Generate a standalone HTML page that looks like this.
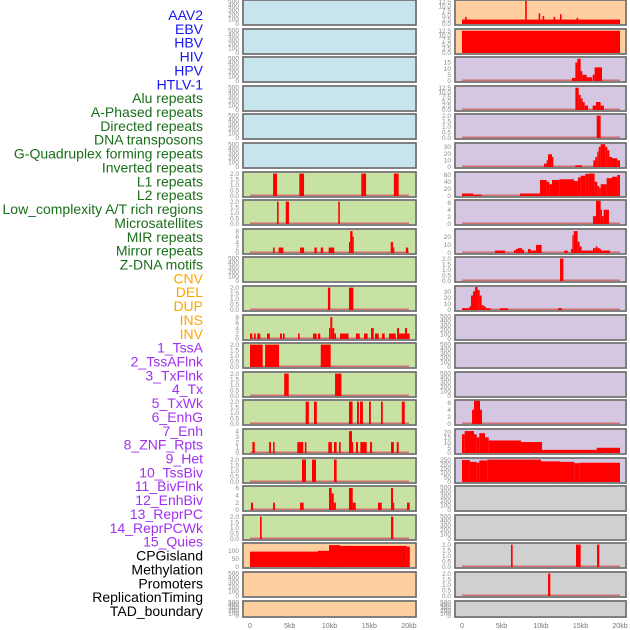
<!DOCTYPE html>
<html><head><meta charset="utf-8"><style>
html,body{margin:0;padding:0;background:#fff;}
svg{display:block;font-family:"Liberation Sans",sans-serif;}
</style></head><body>
<svg id="chart" width="630" height="630" viewBox="0 0 630 630" xmlns="http://www.w3.org/2000/svg"></svg>
<script>
// ---- data ----
const trackLabels = ["AAV2","EBV","HBV","HIV","HPV","HTLV-1","Alu repeats","A-Phased repeats","Directed repeats","DNA transposons","G-Quadruplex forming repeats","Inverted repeats","L1 repeats","L2 repeats","Low_complexity A/T rich regions","Microsatellites","MIR repeats","Mirror repeats","Z-DNA motifs","CNV","DEL","DUP","INS","INV","1_TssA","2_TssAFlnk","3_TxFlnk","4_Tx","5_TxWk","6_EnhG","7_Enh","8_ZNF_Rpts","9_Het","10_TssBiv","11_BivFlnk","12_EnhBiv","13_ReprPC","14_ReprPCWk","15_Quies","CPGisland","Methylation","Promoters","ReplicationTiming","TAD_boundary"];
const labelGroups = [0,0,0,0,0,0,1,1,1,1,1,1,1,1,1,1,1,1,1,2,2,2,2,2,3,3,3,3,3,3,3,3,3,3,3,3,3,3,3,4,4,4,4,4];
const xTickLabels = ["0","5kb","10kb","15kb","20kb"];
const xTickValues = [0,5,10,15,20];
const T500=[0,100,200,300,400,500], T2=[0,0.5,1,1.5,2], T8=[0,2,4,6,8], T6=[0,2,4,6], T125=[0,2.5,5,7.5,10,12.5];
const leftTicks = [T500,T500,T500,T500,T500,T500,T2,T2,T8,T500,T2,T8,T2,T2,T2,[0,1,2,3,4],T2,T6,T2,[0,50,100],T500,T500];
const leftYmax = [520,520,520,520,520,520,2.1,2.1,8.6,520,2.1,8.6,2.1,2.1,2.1,4.3,2.1,6.4,2.1,145,520,520];
const leftSegs = [[],[],[],[],[],[],
 [[2.9,3.4,2],[6.2,6.8,2],[14.0,14.6,2],[18.1,18.7,2]],
 [[3.4,3.6,2],[4.5,4.9,2],[11.1,11.3,2]],
 [[2.9,3.1,2],[3.6,4.2,2],[6.3,6.8,2],[8.1,8.4,2],[8.9,9.2,2],[9.9,10.6,2],[12.45,12.6,4],[12.6,12.9,8],[12.9,13.0,6],[17.7,18.0,4],[18.0,18.1,2],[19.6,19.9,2]],
 [],
 [[9.8,10.1,2],[12.45,13.0,2]],
 [[0,0.29,2],[0.5,0.72,2],[0.92,1.3,2],[2.14,2.5,2],[3.77,4.03,2],[4.15,4.36,2],[6.04,6.25,2],[7.92,8.39,2],[8.55,8.84,2],[9.94,10.1,4],[10.1,10.35,8],[10.35,10.6,4],[10.6,10.82,2],[11.32,12.4,2],[13.33,13.8,2],[14.34,14.8,2],[15.22,15.56,4],[15.72,16.19,2],[16.6,16.94,2],[17.48,18.33,2],[18.5,18.74,4],[18.74,19.5,2],[19.5,19.75,4],[19.75,20.09,2]],
 [[0,1.6,2],[1.9,3.65,2],[8.9,10.15,2]],
 [[4.3,4.87,2],[10.7,11.5,2]],
 [[7.0,7.4,2],[8.05,8.4,2],[12.45,12.9,2],[13.46,13.7,2],[13.84,14.2,2],[14.97,15.2,2],[16.48,16.7,2],[19.1,19.46,2]],
 [[0.3,0.6,2],[2.4,2.64,2],[2.9,3.1,2],[5.95,6.7,2],[6.9,7.1,2],[9.85,10.3,2],[10.57,10.9,2],[11.2,11.4,2],[12.45,12.83,4],[12.83,12.95,2],[13.33,13.58,2],[13.88,14.68,2],[15.1,15.35,2],[17.74,18.1,2],[18.45,18.7,2]],
 [[6.54,7.04,2],[7.8,8.3,2],[10.57,10.9,2]],
 [[0.13,0.38,2],[2.9,3.14,2],[6.3,6.75,2],[9.94,10.27,6],[10.27,10.53,4.5],[10.53,10.8,2],[12.45,12.92,6],[12.92,13.3,2],[16.1,16.57,2],[17.74,17.99,6],[17.99,18.1,2],[19.75,20.09,2]],
 [[1.26,1.47,2],[17.74,18.02,2]],
 [[0,8.55,95],[8.55,9.94,100],[9.94,11.32,135],[11.32,19.7,130],[19.7,20.1,125]],
 [],[]];
const rightTicks = [T125,T125,[0,5,10,15],T125,T2,[0,10,20,30],[0,20,40,60],T6,[0,10,20],T2,[0,10,20,30],T500,T500,T500,T6,[0,5,10,15,20],[0,50,100,150,200,250],T500,T500,T2,T2,T500];
const rightYmax = [13.2,13.2,19,13.2,2.1,35,66,6.6,29,2.1,39,520,520,520,6.6,22.5,262,520,520,2.1,2.1,520];
const rightSegs = [
 [[0,20,2.5],[0.4,0.6,4],[8.0,8.2,13],[9.7,9.9,6],[10.2,10.4,4.5],[11.6,11.8,4],[12.4,12.6,5.5],[14.5,14.7,3.5]],
 [[0,20,12.5]],
 [[13.92,14.35,2.5],[14.35,14.6,15],[14.6,15.02,18],[15.02,15.23,8],[15.23,15.78,5],[15.78,16.46,3],[16.54,16.79,5],[16.79,17.72,11]],
 [[14.35,14.77,12.5],[14.77,15.02,8.5],[15.02,15.27,6.5],[15.27,15.53,4.5],[15.53,15.95,2.5],[16.54,16.96,2.5],[16.96,17.55,4.5],[17.55,17.97,2.5]],
 [[17.05,17.55,2]],
 [[10.38,10.72,5],[10.72,10.89,10],[10.89,11.39,19],[11.39,11.56,15],[14.35,15.19,2.5],[16.62,16.88,10],[16.88,17.13,15],[17.13,17.3,23],[17.3,17.55,30],[17.55,18.14,34],[18.14,18.4,30],[18.4,18.65,25],[18.65,18.99,15],[18.99,19.66,13],[19.66,20,10]],
 [[0,1.43,7],[1.43,2.49,4],[7.34,9.87,7],[9.87,10.72,45],[10.72,11.05,40],[11.05,11.39,33],[11.39,12.32,45],[12.32,14.18,47],[14.18,14.68,42],[14.68,15.02,52],[15.02,15.61,57],[15.61,16.03,62],[16.03,16.79,63],[16.79,17.13,40],[17.13,17.38,28],[17.38,17.55,22],[17.55,18.31,33],[18.31,18.99,50],[18.99,19.66,54],[19.66,20,59]],
 [[16.58,16.96,2.2],[16.96,17.55,6.5],[17.55,17.72,4],[17.72,17.93,2.2],[17.93,18.6,4]],
 [[4.18,5.44,3],[6.58,6.84,3.5],[6.84,7.09,5],[7.09,7.59,6],[7.59,7.85,4],[8.35,8.69,5],[8.69,9.37,3],[9.37,10.08,10],[12.95,13.38,3],[13.8,13.97,5],[13.97,14.14,22],[14.14,14.64,27],[14.64,14.89,14],[14.89,15.15,8],[15.15,16.58,3],[16.58,16.92,6],[16.92,17.17,8],[17.17,17.43,6],[17.43,17.59,5],[17.59,18.73,3]],
 [[12.41,12.83,2]],
 [[0,0.93,3],[0.93,1.14,6],[1.14,1.39,24],[1.39,1.65,31],[1.65,1.98,38],[1.98,2.24,33],[2.24,2.49,24],[2.49,2.74,8],[2.74,3.0,6],[3.0,3.63,3],[4.81,5.82,3],[12.15,12.66,3]],
 [],[],[],
 [[1.27,1.52,4],[1.52,2.28,6.5],[2.28,2.53,4]],
 [[0,0.34,18],[0.34,1.52,21],[1.52,1.86,18],[1.86,2.19,15],[2.19,2.91,19],[2.91,3.38,15],[3.38,7.47,12],[7.47,10.13,10.5],[10.13,17.05,3],[17.05,20,5]],
 [[0,1.0,245],[1.0,1.86,225],[1.86,2.19,215],[2.19,3.2,240],[3.2,10.0,250],[10.0,12.4,230],[12.4,14.2,225],[14.2,14.85,210],[14.85,20,215]],
 [],[],
 [[6.2,6.41,2],[14.43,15.02,2],[17.09,17.38,2]],
 [[10.89,11.18,2]],
 []];

// ---- styles / layout ----
const groupColors = ["#1616f0","#1a6e1a","#ffa500","#a030f0","#000000"];
const leftBg = ["#c8e4ec","#c8e4ec","#c8e4ec","#c8e4ec","#c8e4ec","#c8e4ec","#c8e2a4","#c8e2a4","#c8e2a4","#c8e2a4","#c8e2a4","#c8e2a4","#c8e2a4","#c8e2a4","#c8e2a4","#c8e2a4","#c8e2a4","#c8e2a4","#c8e2a4","#ffcfa0","#ffcfa0","#ffcfa0"];
const rightBg = ["#ffcfa0","#ffcfa0","#d5c6e2","#d5c6e2","#d5c6e2","#d5c6e2","#d5c6e2","#d5c6e2","#d5c6e2","#d5c6e2","#d5c6e2","#d5c6e2","#d5c6e2","#d5c6e2","#d5c6e2","#d5c6e2","#d5c6e2","#d0d0d0","#d0d0d0","#d0d0d0","#d0d0d0","#d0d0d0"];
const rowTop = i => i < 21 ? Math.round(i*28.6) : 601;
const rowH = i => i < 21 ? 25 : 16;
const cols = [
  {x:243, w:173, x0:250, k:7.95, ticks:leftTicks, ymax:leftYmax, segs:leftSegs, bg:leftBg, name:'left'},
  {x:455, w:171, x0:462, k:7.9, ticks:rightTicks, ymax:rightYmax, segs:rightSegs, bg:rightBg, name:'right'}
];
const NS = "http://www.w3.org/2000/svg";
const svg = document.getElementById('chart');
function mk(tag, attrs, parent){ const e=document.createElementNS(NS,tag); for(const k in attrs) e.setAttribute(k,attrs[k]); (parent||svg).appendChild(e); return e; }

trackLabels.forEach((t,i)=>{
  const el = mk('text',{x:203, y:(15+i*13.86+5).toFixed(1), 'text-anchor':'end', 'font-size':'14', fill:groupColors[labelGroups[i]]});
  el.textContent = t;
  
  
});

cols.forEach(c=>{
  const xs = v => c.x0 + v*c.k;
  for(let i=0;i<22;i++){
    const top=rowTop(i), h=rowH(i);
    const g = mk('g',{});
    
    
    const bg = mk('rect',{x:c.x, y:top, width:c.w, height:h, fill:c.bg[i], stroke:'#aaaaaa', 'stroke-width':2}, g);
    
    
    const ymax=c.ymax[i], y0=top+h-1;
    const ys = v => y0 - v/ymax*(h-1.5);
    if(c.segs[i].length){
      const base = mk('rect',{x:xs(0), y:y0-1.5, width:xs(20)-xs(0), height:1.5, fill:'#d07070'}, g);
      
      
    }
    c.segs[i].forEach(s=>{
      const yt = Math.max(top+0.5, ys(s[2]));
      const b = mk('rect',{x:xs(s[0]).toFixed(2), y:yt.toFixed(2), width:Math.max(1.2,xs(s[1])-xs(s[0])).toFixed(2), height:(y0-yt).toFixed(2), fill:'#ff0000'}, g);
      
      
    });
    mk('rect',{x:c.x, y:top, width:c.w, height:h, fill:'none', stroke:'#555555', 'stroke-width':1}, g);
    const tks = c.ticks[i];
    const dec = tks.some(v => v % 1 !== 0);
    tks.forEach(tv=>{
      const t = mk('text',{x:c.x-4, y:(ys(tv)+2.2).toFixed(1), 'text-anchor':'end', 'font-size':'6.5', fill:'#8a8a8a'}, g);
      t.textContent = dec ? tv.toFixed(1) : String(tv);
      
      
    });
  }
  xTickValues.forEach((v,j)=>{
    const t = mk('text',{x:xs(v).toFixed(1), y:628, 'text-anchor':'middle', 'font-size':'7', fill:'#777777'});
    t.textContent = xTickLabels[j];
    
    
  });
});
</script>
</body></html>
